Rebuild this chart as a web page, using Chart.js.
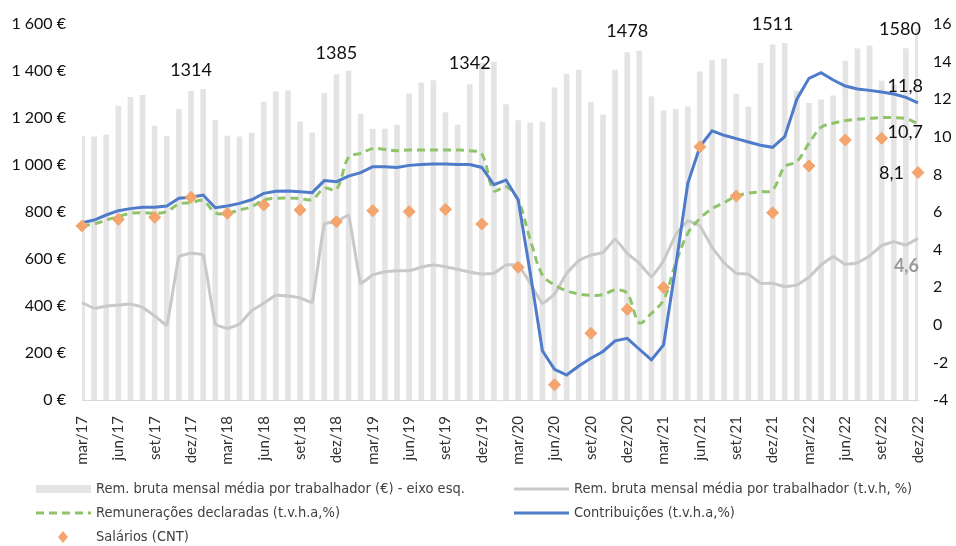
<!DOCTYPE html>
<html>
<head>
<meta charset="utf-8">
<script src="https://cdn.jsdelivr.net/npm/chart.js@4/dist/chart.umd.min.js"></script>
<style>
  body { margin: 0; background: #fff; }
  #grafico { display: block; }
</style>
</head>
<body>
<canvas id="grafico" width="956" height="546"></canvas>
<script>
// meses de mar/17 a dez/22
const nomesMeses = ['jan', 'fev', 'mar', 'abr', 'mai', 'jun', 'jul', 'ago', 'set', 'out', 'nov', 'dez'];
const meses = [];
for (let ano = 17; ano <= 22; ano++) {
    for (let m = 0; m < 12; m++) {
        if (ano === 17 && m < 2) continue;
        meses.push(nomesMeses[m] + '/' + ano);
    }
}

// Rem. bruta mensal média por trabalhador (€) - eixo esquerdo
const remBruta = [
    1123, 1120, 1128, 1251, 1288, 1296, 1166, 1123, 1237, 1314,
    1322, 1191, 1123, 1120, 1136, 1268, 1311, 1316, 1184, 1137, 1305, 1385,
    1400, 1217, 1153, 1153, 1170, 1303, 1350, 1359, 1223, 1170, 1342, 1433,
    1438, 1257, 1189, 1179, 1183, 1328, 1387, 1404, 1267, 1214, 1404, 1478,
    1485, 1291, 1231, 1237, 1248, 1396, 1444, 1451, 1302, 1248, 1433, 1511,
    1518, 1316, 1262, 1277, 1294, 1442, 1494, 1507, 1357, 1340, 1495, 1580
];

// Rem. bruta mensal média por trabalhador (t.v.h, %)
const remTvh = [
    1.18, 0.88, 1.0, 1.05, 1.1, 0.93, 0.47, -0.01, 3.62, 3.80,
    3.71, 0.04, -0.19, 0.04, 0.75, 1.14, 1.57, 1.53, 1.43, 1.20, 5.36, 5.48,
    5.82, 2.21, 2.65, 2.82, 2.88, 2.88, 3.06, 3.18, 3.09, 2.95, 2.81, 2.70,
    2.74, 3.18, 3.16, 2.21, 1.14, 1.64, 2.74, 3.41, 3.71, 3.84, 4.55, 3.80,
    3.27, 2.56, 3.41, 4.78, 5.52, 5.26, 4.12, 3.30, 2.74, 2.70, 2.21, 2.21,
    2.03, 2.12, 2.53, 3.18, 3.62, 3.22, 3.30, 3.66, 4.21, 4.42, 4.24, 4.6
];

// Remunerações declaradas (t.v.h.a, %)
const remDeclaradas = [
    5.26, 5.36, 5.57, 5.75, 5.93, 5.96, 5.93, 6.02, 6.43, 6.50,
    6.60, 5.96, 5.93, 6.11, 6.28, 6.64, 6.73, 6.75, 6.71, 6.67, 7.26, 7.20,
    8.91, 9.12, 9.37, 9.33, 9.26, 9.30, 9.30, 9.30, 9.30, 9.30, 9.26, 9.09,
    7.13, 7.35, 6.64, 4.51, 2.65, 2.12, 1.81, 1.64, 1.57, 1.60, 1.85, 1.67,
    0.11, 0.61, 1.32, 3.27, 4.87, 5.66, 6.18, 6.50, 6.85, 7.00, 7.08, 7.17,
    8.41, 8.68, 9.65, 10.50, 10.72, 10.86, 10.93, 10.98, 11.02, 11.02, 10.96, 10.7
];

// Contribuições (t.v.h.a, %)
const contribuicoes = [
    5.43, 5.57, 5.84, 6.07, 6.18, 6.25, 6.25, 6.32, 6.73, 6.78,
    6.90, 6.23, 6.32, 6.46, 6.65, 6.99, 7.10, 7.12, 7.08, 7.03, 7.67, 7.61,
    7.91, 8.09, 8.41, 8.41, 8.37, 8.48, 8.53, 8.55, 8.55, 8.53, 8.53, 8.37,
    7.45, 7.70, 6.64, 2.74, -1.38, -2.37, -2.67, -2.19, -1.78, -1.42, -0.85, -0.72,
    -1.30, -1.87, -1.07, 3.09, 7.53, 9.47, 10.32, 10.08, 9.90, 9.72, 9.55, 9.44,
    10.01, 12.0, 13.11, 13.41, 13.02, 12.70, 12.54, 12.47, 12.38, 12.28, 12.10, 11.8
];

// Salários (CNT), trimestral: mar, jun, set, dez
const salariosTrim = [
    5.26, 5.61, 5.72, 6.78,
    5.93, 6.37, 6.11, 5.48,
    6.07, 6.02, 6.14, 5.36,
    3.06, -3.19, -0.45, 0.82,
    1.99, 9.47, 6.85, 5.96,
    8.45, 9.83, 9.92, 8.1
];

// meses com o valor da barra escrito por cima
const mesesRotulo = ['dez/17', 'dez/18', 'nov/19', 'dez/20', 'dez/21', 'dez/22'];

const eixoEsqTicks = [0, 200, 400, 600, 800, 1000, 1200, 1400, 1600];
const eixoDirTicks = [-4, -2, 0, 2, 4, 6, 8, 10, 12, 14, 16];

const salarios = meses.map((m, i) => (i % 3 === 0 ? salariosTrim[i / 3] : null));

const fonteEixo = 'Lato, "Open Sans", sans-serif';
const fonteLegenda = '"Liberation Sans Narrow", "DejaVu Sans Condensed", sans-serif';

function formatarEuro(v) {
    const s = String(v);
    return s.replace(/\B(?=(\d{3})+(?!\d))/g, ' ') + ' €';
}

const rotulosPlugin = {
    id: 'rotulos',
    afterDatasetsDraw(chart) {
        const ctx = chart.ctx;
        const x = chart.scales.x;
        const yE = chart.scales.yEsq;
        const yD = chart.scales.yDir;
        ctx.save();
        ctx.font = '18px ' + fonteEixo;
        ctx.fillStyle = '#111';
        ctx.textAlign = 'center';
        ctx.textBaseline = 'middle';
        mesesRotulo.forEach(m => {
            const i = meses.indexOf(m);
            let px = x.getPixelForValue(i);
            let py = yE.getPixelForValue(remBruta[i]) - 21;
            if (i === meses.length - 1) { px -= 18; py = yE.getPixelForValue(remBruta[i]); }
            ctx.fillText(String(remBruta[i]), px, py);
        });
        const ult = meses.length - 1;
        const xu = x.getPixelForValue(ult);
        ctx.textAlign = 'right';
        ctx.fillText(contribuicoes[ult].toFixed(1).replace('.', ','), xu + 5, yD.getPixelForValue(contribuicoes[ult]) - 17);
        ctx.fillText(remDeclaradas[ult].toFixed(1).replace('.', ','), xu + 5, yD.getPixelForValue(remDeclaradas[ult]) + 9);
        ctx.fillText(salarios[ult].toFixed(1).replace('.', ','), xu - 14, yD.getPixelForValue(salarios[ult]) + 1);
        ctx.font = 'bold 18px ' + fonteEixo;
        ctx.fillStyle = '#9a9a9a';
        ctx.fillText(remTvh[ult].toFixed(1).replace('.', ','), xu + 1, yD.getPixelForValue(remTvh[ult]) + 28);
        ctx.restore();
    }
};

const legendaPlugin = {
    id: 'legendaPropria',
    afterDraw(chart) {
        const ctx = chart.ctx;
        const ds = chart.data.datasets;
        const pos = [
            { x: 36, y: 489 },
            { x: 514, y: 489 },
            { x: 36, y: 513 },
            { x: 514, y: 513 },
            { x: 36, y: 537 }
        ];
        ctx.save();
        ctx.font = '14.5px ' + fonteLegenda;
        ctx.textBaseline = 'middle';
        ctx.textAlign = 'left';
        ds.forEach((d, k) => {
            const p = pos[k];
            if (d.type === 'bar') {
                ctx.fillStyle = d.backgroundColor;
                ctx.fillRect(p.x, p.y - 4, 55, 8);
            } else if (d.showLine === false) {
                ctx.fillStyle = d.backgroundColor;
                ctx.beginPath();
                ctx.moveTo(p.x + 27, p.y - 6);
                ctx.lineTo(p.x + 32, p.y);
                ctx.lineTo(p.x + 27, p.y + 6);
                ctx.lineTo(p.x + 22, p.y);
                ctx.closePath();
                ctx.fill();
            } else {
                ctx.strokeStyle = d.borderColor;
                ctx.lineWidth = d.borderWidth;
                ctx.setLineDash(d.borderDash || []);
                ctx.beginPath();
                ctx.moveTo(p.x, p.y);
                ctx.lineTo(p.x + 55, p.y);
                ctx.stroke();
                ctx.setLineDash([]);
            }
            ctx.fillStyle = '#404040';
            ctx.fillText(d.label, p.x + 60, p.y);
        });
        ctx.restore();
    }
};

new Chart(document.getElementById('grafico'), {
    type: 'bar',
    data: {
        labels: meses,
        datasets: [
            {
                type: 'bar',
                label: 'Rem. bruta mensal média por trabalhador (€) - eixo esq.',
                data: remBruta,
                yAxisID: 'yEsq',
                backgroundColor: '#e4e4e4',
                barThickness: 5,
                order: 5
            },
            {
                type: 'line',
                label: 'Rem. bruta mensal média por trabalhador (t.v.h, %)',
                data: remTvh,
                yAxisID: 'yDir',
                borderColor: '#c9c9c9',
                borderWidth: 3,
                pointRadius: 0,
                tension: 0.1,
                order: 4
            },
            {
                type: 'line',
                label: 'Remunerações declaradas (t.v.h.a,%)',
                data: remDeclaradas,
                yAxisID: 'yDir',
                borderColor: '#8fc46b',
                borderWidth: 3,
                borderDash: [8, 5],
                pointRadius: 0,
                tension: 0.35,
                order: 3
            },
            {
                type: 'line',
                label: 'Contribuições (t.v.h.a,%)',
                data: contribuicoes,
                yAxisID: 'yDir',
                borderColor: '#4f7bcb',
                borderWidth: 3,
                pointRadius: 0,
                tension: 0,
                order: 2
            },
            {
                type: 'line',
                label: 'Salários (CNT)',
                data: salarios,
                yAxisID: 'yDir',
                showLine: false,
                pointStyle: 'rectRot',
                pointRadius: 6,
                backgroundColor: '#f4a46d',
                borderColor: '#f4a46d',
                order: 1
            }
        ]
    },
    options: {
        responsive: false,
        animation: false,
        layout: { padding: { top: 24, bottom: 71, left: 0, right: 0 } },
        plugins: {
            legend: { display: false },
            tooltip: { enabled: false }
        },
        scales: {
            x: {
                offset: false,
                grid: { display: false },
                border: { display: true, color: '#d9d9d9', width: 1 },
                ticks: {
                    autoSkip: false,
                    maxRotation: 90,
                    minRotation: 90,
                    padding: 8,
                    color: '#333',
                    font: { family: fonteEixo, size: 15 },
                    callback: (v, i) => (i % 3 === 0 ? meses[i] : '')
                },
                afterFit: s => { s.height = 75; }
            },
            yEsq: {
                position: 'left',
                min: eixoEsqTicks[0],
                max: eixoEsqTicks[eixoEsqTicks.length - 1],
                grid: { display: false },
                border: { display: false },
                afterBuildTicks: s => { s.ticks = eixoEsqTicks.map(v => ({ value: v })); },
                ticks: {
                    color: '#111',
                    padding: 8,
                    font: { family: fonteEixo, size: 16 },
                    callback: v => formatarEuro(v)
                },
                afterFit: s => { s.width = 82; }
            },
            yDir: {
                position: 'right',
                min: eixoDirTicks[0],
                max: eixoDirTicks[eixoDirTicks.length - 1],
                grid: { display: false },
                border: { display: false },
                afterBuildTicks: s => { s.ticks = eixoDirTicks.map(v => ({ value: v })); },
                ticks: {
                    color: '#111',
                    padding: 7,
                    font: { family: fonteEixo, size: 16 }
                },
                afterFit: s => { s.width = 38; }
            }
        }
    },
    plugins: [rotulosPlugin, legendaPlugin]
});
</script>
</body>
</html>
